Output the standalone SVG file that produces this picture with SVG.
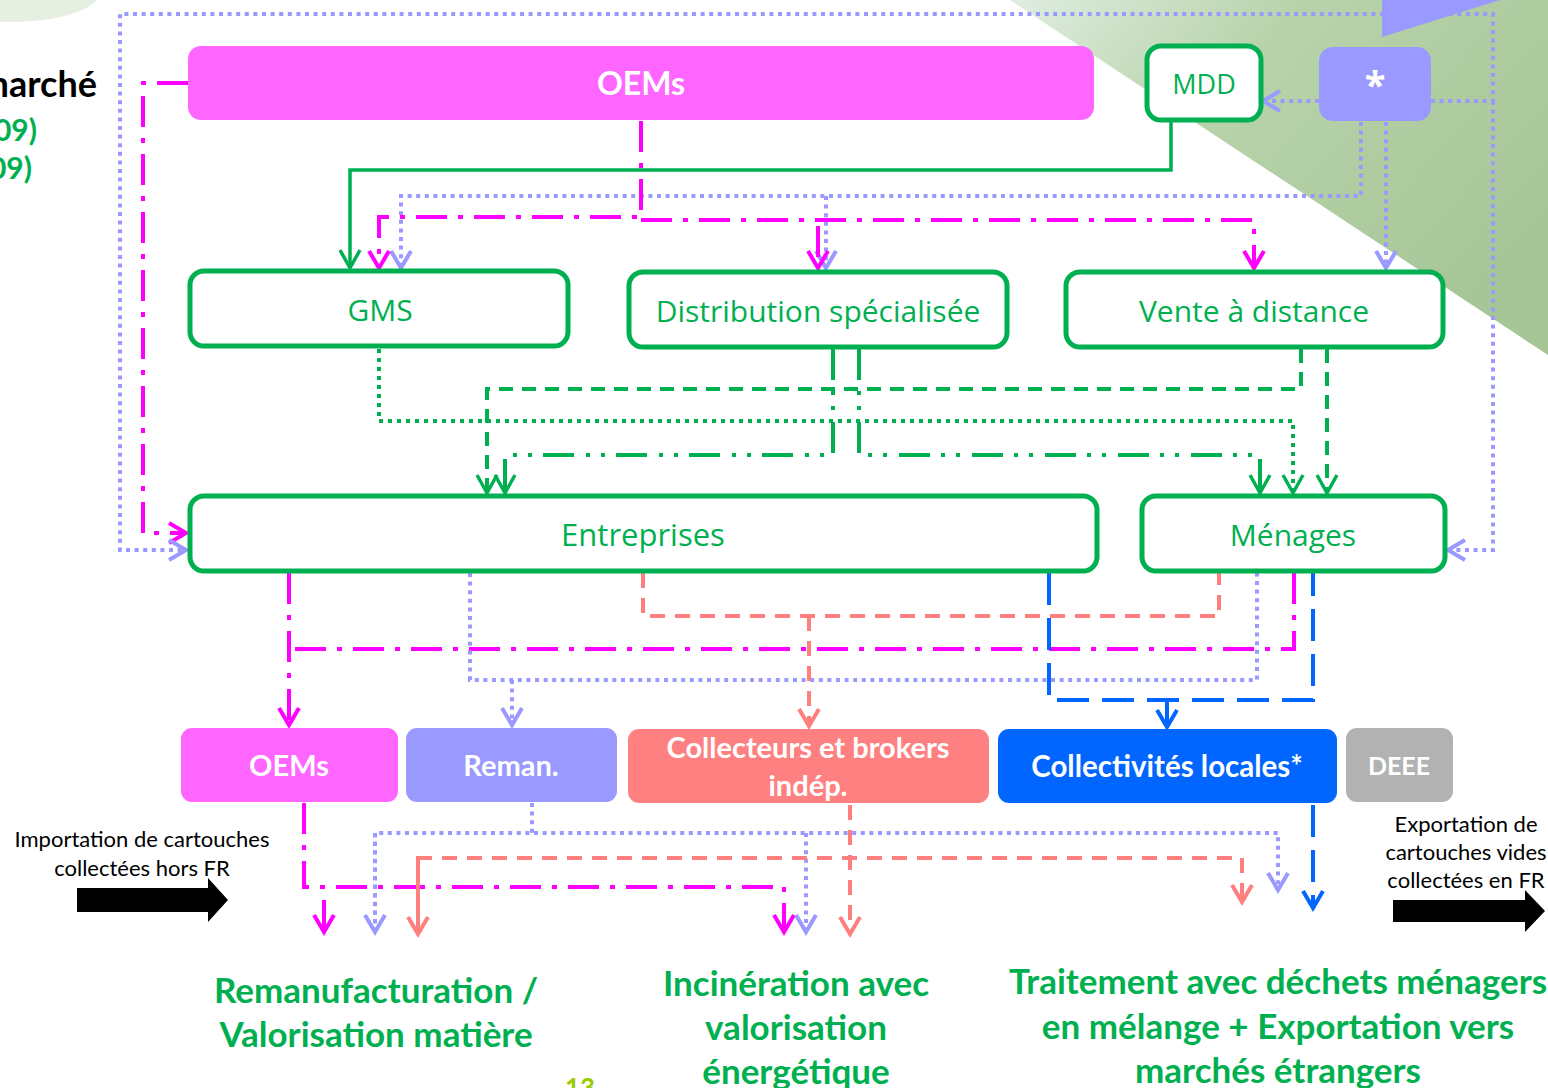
<svg xmlns="http://www.w3.org/2000/svg" width="1548" height="1088" viewBox="0 0 1548 1088">
<defs>
<linearGradient id="bg" x1="0" y1="0" x2="1" y2="0.6">
<stop offset="0" stop-color="#dfede0"/>
<stop offset="0.4" stop-color="#b8d3ab"/>
<stop offset="1" stop-color="#a7c698"/>
</linearGradient>
<marker id="am" markerUnits="userSpaceOnUse" orient="auto" refX="0" refY="0" markerWidth="40" markerHeight="40" style="overflow:visible"><path d="M-17,-10 L0,0 L-17,10" fill="none" stroke="#FF00FF" stroke-width="4" stroke-dasharray="none"/></marker>
<marker id="al" markerUnits="userSpaceOnUse" orient="auto" refX="0" refY="0" markerWidth="40" markerHeight="40" style="overflow:visible"><path d="M-17,-10 L0,0 L-17,10" fill="none" stroke="#9999FF" stroke-width="4" stroke-dasharray="none"/></marker>
<marker id="ag" markerUnits="userSpaceOnUse" orient="auto" refX="0" refY="0" markerWidth="40" markerHeight="40" style="overflow:visible"><path d="M-18,-10 L0,0 L-18,10" fill="none" stroke="#00B050" stroke-width="3.5" stroke-dasharray="none"/></marker>
<marker id="as" markerUnits="userSpaceOnUse" orient="auto" refX="0" refY="0" markerWidth="40" markerHeight="40" style="overflow:visible"><path d="M-17,-10 L0,0 L-17,10" fill="none" stroke="#FF7F7F" stroke-width="4" stroke-dasharray="none"/></marker>
<marker id="ab" markerUnits="userSpaceOnUse" orient="auto" refX="0" refY="0" markerWidth="40" markerHeight="40" style="overflow:visible"><path d="M-17,-10 L0,0 L-17,10" fill="none" stroke="#0066FF" stroke-width="4" stroke-dasharray="none"/></marker>
</defs>
<style>
.nb rect{fill:#fff;stroke:#00B050;stroke-width:5}
.nl{font-family:"Open Sans","Noto Sans",sans-serif;fill:#00B050;text-anchor:middle}
.wl{font-family:Lato,"Open Sans",sans-serif;font-weight:bold;fill:#fff;text-anchor:middle}
.bt{font-family:Lato,"Open Sans",sans-serif;font-weight:bold;fill:#00B050;text-anchor:middle;font-size:35px}
.st{font-family:Lato,"Open Sans",sans-serif;fill:#000;text-anchor:middle;font-size:22px}
.c path{fill:none}
.mg{stroke:#FF00FF;stroke-width:4;stroke-dasharray:31 11 5 11}
.lv{stroke:#9999FF;stroke-width:4;stroke-dasharray:4 4.6}
.gs{stroke:#00B050;stroke-width:3.5}
.gd{stroke:#00B050;stroke-width:4;stroke-dasharray:4 5}
.gh{stroke:#00B050;stroke-width:4;stroke-dasharray:14 9}
.gdd{stroke:#00B050;stroke-width:4;stroke-dasharray:31 11 4 11 4 12}
.sl{stroke:#FF7F7F;stroke-width:4;stroke-dasharray:15 10}
.bl{stroke:#0066FF;stroke-width:4;stroke-dasharray:32 13}
</style>
<rect x="0" y="0" width="1548" height="1088" fill="#fff"/>
<polygon points="1010,0 1548,0 1548,355" fill="url(#bg)"/>
<ellipse cx="10" cy="-8" rx="90" ry="30" fill="#e6f0e2"/>
<polygon points="1382,0 1382,37 1500,0" fill="#9999FF"/>

<g id="title-fragments">
<text x="97" y="97" font-family="Lato,'Open Sans',sans-serif" font-weight="bold" font-size="36" fill="#000" text-anchor="end">marché</text>
<text x="37" y="141" font-family="Lato,'Open Sans',sans-serif" font-weight="bold" font-size="30" fill="#00B050" text-anchor="end">09)</text>
<text x="32" y="179" font-family="Lato,'Open Sans',sans-serif" font-weight="bold" font-size="30" fill="#00B050" text-anchor="end">09)</text>
</g>

<g class="c" id="connectors">
<path class="mg" d="M188,83 H143 V533 H186" marker-end="url(#am)"/>
<path class="lv" d="M1431,101 H1493 V14 H120 V550 H186" marker-end="url(#al)"/>
<path class="lv" d="M1493,101 V550 H1448" marker-end="url(#al)"/>
<path class="lv" d="M1319,101 H1263" marker-end="url(#al)"/>
<path class="lv" d="M1361,122 V196 H401 V268" marker-end="url(#al)"/>
<path class="lv" d="M826,196 V268" marker-end="url(#al)"/>
<path class="lv" d="M1386,122 V268" marker-end="url(#al)"/>
<path class="gs" d="M1171,122 V170 H350 V268" marker-end="url(#ag)"/>
<path class="mg" d="M641,121 V217 H379 V268" marker-end="url(#am)"/>
<path class="mg" d="M641,220 H1254 V268" marker-end="url(#am)"/>
<path class="mg" d="M818,226 V268" marker-end="url(#am)"/>
<path class="gd" d="M379,349 V421 H1293 V493" marker-end="url(#ag)"/>
<path class="gh" d="M1301,349 V389 H487 V493" marker-end="url(#ag)"/>
<path class="gh" d="M1327,349 V493" marker-end="url(#ag)"/>
<path class="gdd" d="M833,349 V455 H505 V493" marker-end="url(#ag)"/>
<path class="gdd" d="M859,349 V455 H1260 V493" marker-end="url(#ag)"/>
<path class="mg" d="M289,573 V725" marker-end="url(#am)"/>
<path class="mg" d="M1294,573 V649 H289"/>
<path class="lv" d="M470,573 V680 H1257 V573"/>
<path class="lv" d="M512,680 V725" marker-end="url(#al)"/>
<path class="sl" d="M643,573 V616 H1219 V573"/>
<path class="sl" d="M809,616 V726" marker-end="url(#as)"/>
<path class="bl" d="M1049,573 V700 H1313 V573"/>
<path class="bl" d="M1167,700 V727" marker-end="url(#ab)"/>
<path class="mg" d="M304,803 V887 H784 V932" marker-end="url(#am)"/>
<path style="stroke:#FF00FF;stroke-width:4" d="M324,900 V932" marker-end="url(#am)"/>
<path class="lv" d="M532,803 V833"/>
<path class="lv" d="M375,932 V833 H1278 V890" marker-end="url(#al)"/>
<path class="lv" d="M375,833 V932" marker-end="url(#al)"/>
<path class="lv" d="M806,833 V932" marker-end="url(#al)"/>
<path class="sl" d="M850,805 V934" marker-end="url(#as)"/>
<path class="sl" d="M418,934 V858 H1242 V902" marker-end="url(#as)"/>
<path class="sl" d="M418,858 V934" marker-end="url(#as)"/>
<path class="bl" d="M1313,805 V908" marker-end="url(#ab)"/>
</g>

<g id="oems-top"><rect x="188" y="46" width="906" height="74" rx="13" fill="#FF66FF"/><text class="wl" x="641" y="95" font-size="32">OEMs</text></g>
<g id="mdd" class="nb"><rect x="1147" y="46" width="114" height="74" rx="14"/><text class="nl" x="1204" y="94" font-size="27">MDD</text></g>
<g id="star"><rect x="1319" y="47" width="112" height="74" rx="14" fill="#9999FF"/><text x="1375" y="99" font-family="'Open Sans',sans-serif" font-weight="bold" font-size="38" fill="#fff" text-anchor="middle">*</text></g>
<g id="gms" class="nb"><rect x="190" y="271" width="378" height="75" rx="14"/><text class="nl" x="380" y="321" font-size="30">GMS</text></g>
<g id="distrib" class="nb"><rect x="629" y="272" width="378" height="75" rx="14"/><text class="nl" x="818" y="322" font-size="30">Distribution spécialisée</text></g>
<g id="vad" class="nb"><rect x="1066" y="272" width="377" height="75" rx="14"/><text class="nl" x="1254" y="322" font-size="30">Vente à distance</text></g>
<g id="entreprises" class="nb"><rect x="190" y="496" width="907" height="75" rx="14"/><text class="nl" x="643" y="546" font-size="31">Entreprises</text></g>
<g id="menages" class="nb"><rect x="1142" y="496" width="303" height="75" rx="14"/><text class="nl" x="1293" y="546" font-size="30">Ménages</text></g>

<g id="oems-bottom"><rect x="181" y="728" width="217" height="74" rx="11" fill="#FF66FF"/><text class="wl" x="289" y="776" font-size="29">OEMs</text></g>
<g id="reman"><rect x="406" y="728" width="211" height="74" rx="11" fill="#9999FF"/><text class="wl" x="511" y="776" font-size="29">Reman.</text></g>
<g id="collecteurs"><rect x="628" y="729" width="361" height="74" rx="11" fill="#FF8080"/><text class="wl" x="808" y="758" font-size="29">Collecteurs et brokers</text><text class="wl" x="808" y="796" font-size="29">indép.</text></g>
<g id="collectivites"><rect x="998" y="729" width="339" height="74" rx="11" fill="#0066FF"/><text class="wl" x="1167" y="777" font-size="29.5">Collectivités locales*</text></g>
<g id="deee"><rect x="1346" y="728" width="107" height="74" rx="11" fill="#B2B2B2"/><text class="wl" x="1399" y="775" font-size="25">DEEE</text></g>

<g id="import">
<text class="st" x="142" y="847">Importation de cartouches</text>
<text class="st" x="142" y="876">collectées hors FR</text>
<polygon points="77,888 208,888 208,878 228,900 208,922 208,912 77,912" fill="#000"/>
</g>
<g id="export">
<text class="st" x="1466" y="832">Exportation de</text>
<text class="st" x="1466" y="860">cartouches vides</text>
<text class="st" x="1466" y="888">collectées en FR</text>
<polygon points="1393,900 1525,900 1525,890 1545,911 1525,932 1525,922 1393,922" fill="#000"/>
</g>

<g id="out-remanufacturation"><text class="bt" x="376" y="1003">Remanufacturation /</text><text class="bt" x="376" y="1047">Valorisation matière</text></g>
<g id="out-incineration"><text class="bt" x="796" y="996">Incinération avec</text><text class="bt" x="796" y="1040">valorisation</text><text class="bt" x="796" y="1084">énergétique</text></g>
<g id="out-traitement"><text class="bt" x="1278" y="994">Traitement avec déchets ménagers</text><text class="bt" x="1278" y="1039">en mélange + Exportation vers</text><text class="bt" x="1278" y="1083">marchés étrangers</text></g>
<text x="580" y="1097" font-family="Lato,'Open Sans',sans-serif" font-weight="bold" font-size="26" fill="#99CC00" text-anchor="middle">13</text>
</svg>
